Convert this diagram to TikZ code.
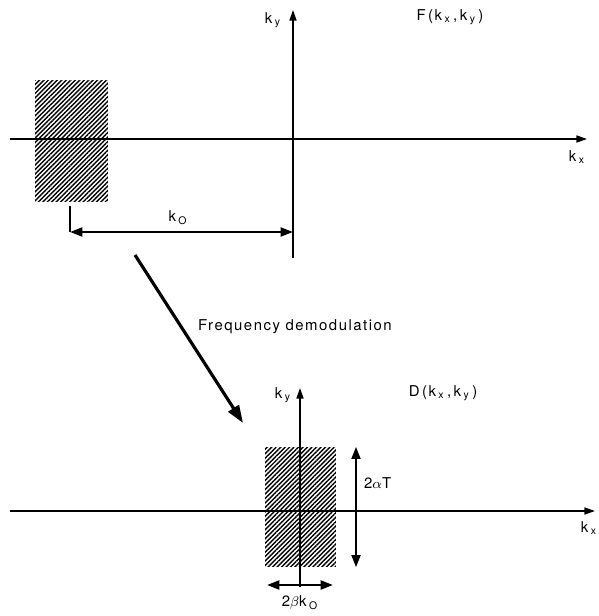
\documentclass[tikz,border=0pt]{standalone}
\usepackage{fontspec}
\setmainfont{TeX Gyre Heros}[LetterSpace=10]
\usetikzlibrary{arrows.meta,patterns.meta}
\newcommand{\kk}[1]{k\,\textsubscript{#1}}

\begin{document}
\begin{tikzpicture}[x=0.02cm, y=-0.02cm,
  axis/.style={line width=0.8pt, -{Triangle[length=6pt,width=4pt]}},
  band/.style={pattern={Lines[angle=45,distance=1.8pt,line width=0.8pt]}, inner sep=0pt},
  dim/.style={line width=1.4pt, {Triangle[length=7pt,width=5pt]}-{Triangle[length=7pt,width=5pt]}},
  lbl/.style={font=\fontsize{8.5}{10}\selectfont, inner sep=1pt}]
\useasboundingbox (0,0) rectangle (599,616);

% upper spectrum F
\coordinate (ax1l) at (10,139);
\coordinate (ax1r) at (587,139);
\coordinate (ay1b) at (293,258);
\coordinate (ay1t) at (293,10);
\draw[axis] (ax1l) -- (ax1r);
\draw[axis] (ay1b) -- (ay1t);
\node[band, minimum width=1.46cm, minimum height=2.44cm] (fband) at (71.5,141) {};
\node[lbl] (fky) at (273,20) {\kk{y}};
\node[lbl] (fkx) at (577,157) {\kk{x}};
\node[lbl] (ftitle) at (450,17) {F\,(\kk{x}\,,\,\kk{y}\,)};
\coordinate (k0l) at (70,232);
\draw[line width=1.4pt] ([yshift=-2pt]fband.south -| k0l) -- (k0l);
\draw[dim] (k0l) -- (k0l -| ay1t);
\node[lbl] (k0) at (178,218) {\kk{O}};

% demodulation step
\coordinate (dmfrom) at (135,255);
\coordinate (dmto) at (243,423);
\draw[line width=1.8pt, -{Triangle[length=10pt,width=7pt]}] (dmfrom) -- (dmto);
\node[lbl, anchor=west] (dmtext) at (196,327) {Frequency demodulation};

% lower spectrum D
\coordinate (ax2l) at (10,511);
\coordinate (ax2r) at (595,511);
\coordinate (ay2b) at (300,587);
\coordinate (ay2t) at (300,388);
\draw[axis] (ax2l) -- (ax2r);
\draw[axis] (ay2b) -- (ay2t);
\node[band, minimum width=1.42cm, minimum height=2.4cm] (dband) at (300.5,507) {};
\node[lbl] (dky) at (283,395) {\kk{y}};
\node[lbl, anchor=east] (dkx) at (599,528) {\kk{x}};
\node[lbl] (dtitle) at (443,393) {D\,(\kk{x}\,,\,\kk{y}\,)};
\draw[dim] (dband.north east -| 356,0) -- (dband.south east -| 356,0);
\node[lbl, anchor=west] (alpha) at (362,483) {2$\alpha$T};
\draw[dim] (267,585) -- (333,585);
\node[lbl] (beta) at (300,603) {2$\beta$\kk{O}};
\end{tikzpicture}
\end{document}
